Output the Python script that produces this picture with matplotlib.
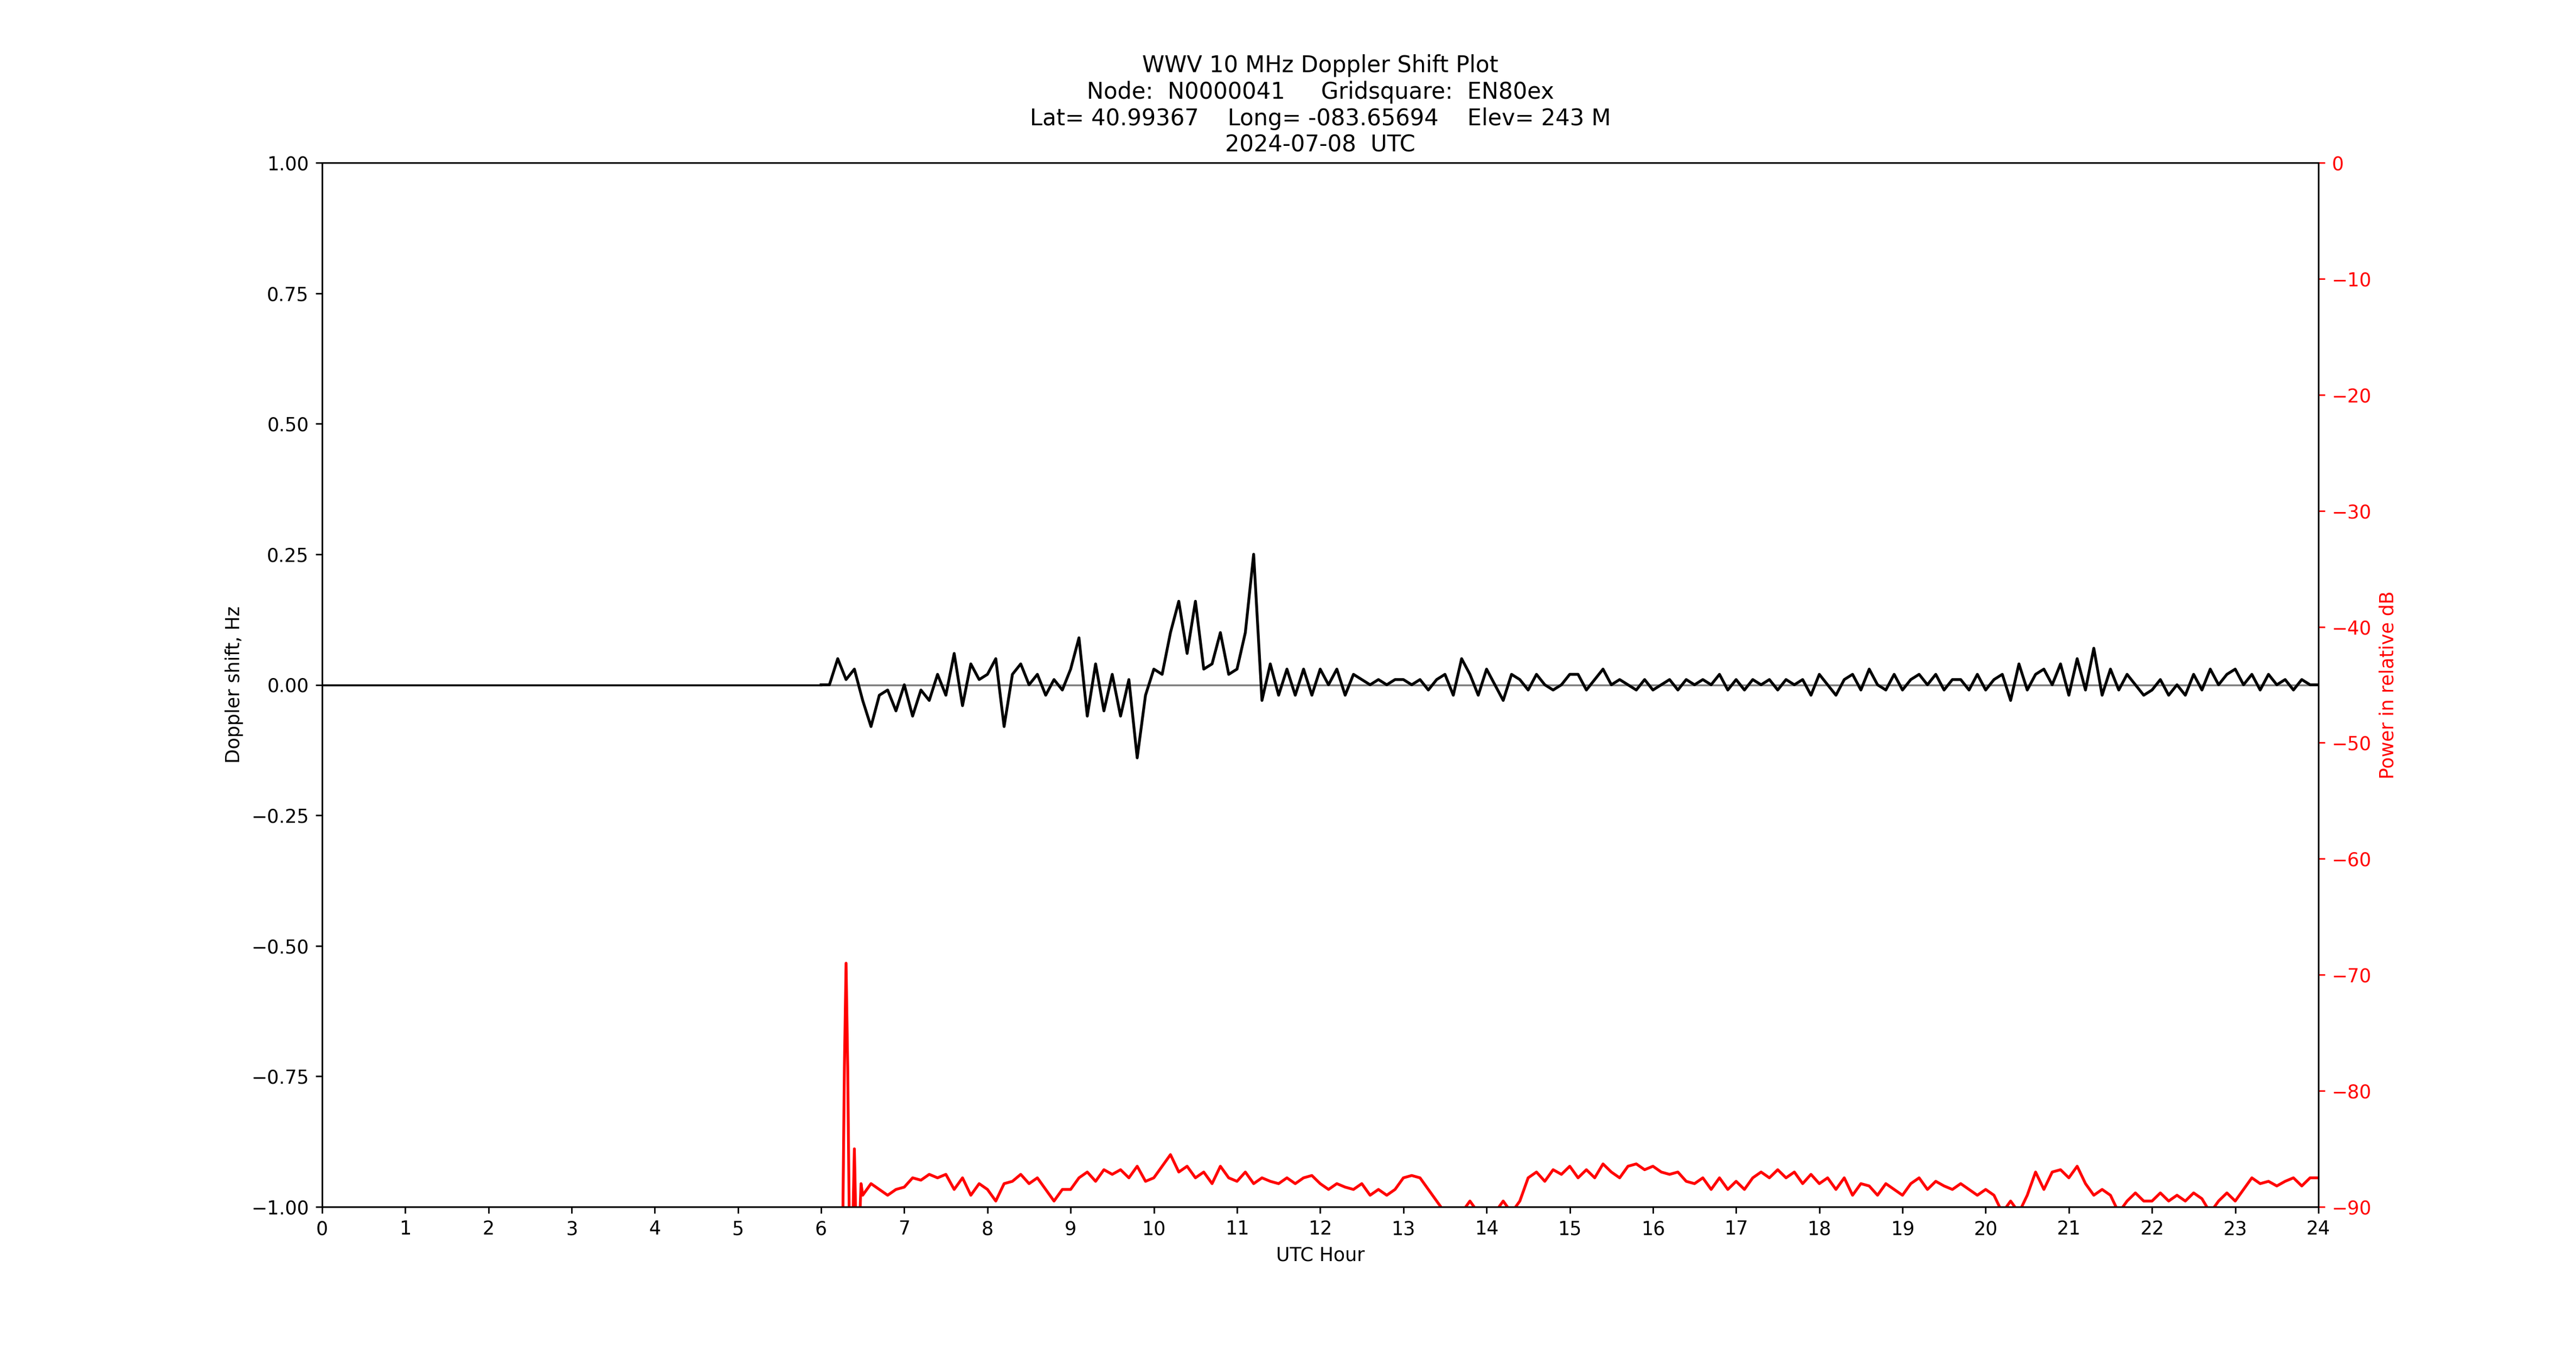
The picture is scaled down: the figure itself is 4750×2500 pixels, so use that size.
import numpy as np
import matplotlib.pyplot as plt

# Doppler shift (Hz), every 0.1 h from 6.0 to 24.0
dop_start = 6.0
doppler = [
    0.0, 0.0, 0.05, 0.01, 0.03, -0.03, -0.08, -0.02, -0.01, -0.05,
    0.0, -0.06, -0.01, -0.03, 0.02, -0.02, 0.06, -0.04, 0.04, 0.01,
    0.02, 0.05, -0.08, 0.02, 0.04, 0.0, 0.02, -0.02, 0.01, -0.01,
    0.03, 0.09, -0.06, 0.04, -0.05, 0.02, -0.06, 0.01, -0.14, -0.02,
    0.03, 0.02, 0.10, 0.16, 0.06, 0.16, 0.03, 0.04, 0.10, 0.02,
    0.03, 0.10, 0.25, -0.03, 0.04, -0.02, 0.03, -0.02, 0.03, -0.02,
    0.03, 0.0, 0.03, -0.02, 0.02, 0.01, 0.0, 0.01, 0.0, 0.01,
    0.01, 0.0, 0.01, -0.01, 0.01, 0.02, -0.02, 0.05, 0.02, -0.02,
    0.03, 0.0, -0.03, 0.02, 0.01, -0.01, 0.02, 0.0, -0.01, 0.0,
    0.02, 0.02, -0.01, 0.01, 0.03, 0.0, 0.01, 0.0, -0.01, 0.01,
    -0.01, 0.0, 0.01, -0.01, 0.01, 0.0, 0.01, 0.0, 0.02, -0.01,
    0.01, -0.01, 0.01, 0.0, 0.01, -0.01, 0.01, 0.0, 0.01, -0.02,
    0.02, 0.0, -0.02, 0.01, 0.02, -0.01, 0.03, 0.0, -0.01, 0.02,
    -0.01, 0.01, 0.02, 0.0, 0.02, -0.01, 0.01, 0.01, -0.01, 0.02,
    -0.01, 0.01, 0.02, -0.03, 0.04, -0.01, 0.02, 0.03, 0.0, 0.04,
    -0.02, 0.05, -0.01, 0.07, -0.02, 0.03, -0.01, 0.02, 0.0, -0.02,
    -0.01, 0.01, -0.02, 0.0, -0.02, 0.02, -0.01, 0.03, 0.0, 0.02,
    0.03, 0.0, 0.02, -0.01, 0.02, 0.0, 0.01, -0.01, 0.01, 0.0, 0.0,
]

# Power (relative dB): initial spike, then every 0.1 h from 6.5 to 24.0
spike_hours = [6.2, 6.26, 6.28, 6.30, 6.32, 6.34, 6.38, 6.40, 6.42, 6.46, 6.48]
spike_power = [-95, -92, -78, -69, -78, -92, -92, -85, -92, -92, -88]
pow_start = 6.5
power = [
    -89.0, -88.0, -88.5, -89.0, -88.5,
    -88.3, -87.5, -87.7, -87.2, -87.5, -87.2, -88.5, -87.5, -89.0, -88.0,
    -88.5, -89.5, -88.0, -87.8, -87.2, -88.0, -87.5, -88.5, -89.5, -88.5,
    -88.5, -87.5, -87.0, -87.8, -86.8, -87.2, -86.8, -87.5, -86.5, -87.8,
    -87.5, -86.5, -85.5, -87.0, -86.5, -87.5, -87.0, -88.0, -86.5, -87.5,
    -87.8, -87.0, -88.0, -87.5, -87.8, -88.0, -87.5, -88.0, -87.5, -87.3,
    -88.0, -88.5, -88.0, -88.3, -88.5, -88.0, -89.0, -88.5, -89.0, -88.5,
    -87.5, -87.3, -87.5, -88.5, -89.5, -90.5, -90.2, -90.5, -89.5, -90.5,
    -90.3, -90.5, -89.5, -90.5, -89.5, -87.5, -87.0, -87.8, -86.8, -87.2,
    -86.5, -87.5, -86.8, -87.5, -86.3, -87.0, -87.5, -86.5, -86.3, -86.8,
    -86.5, -87.0, -87.2, -87.0, -87.8, -88.0, -87.5, -88.5, -87.5, -88.5,
    -87.8, -88.5, -87.5, -87.0, -87.5, -86.8, -87.5, -87.0, -88.0, -87.2,
    -88.0, -87.5, -88.5, -87.5, -89.0, -88.0, -88.2, -89.0, -88.0, -88.5,
    -89.0, -88.0, -87.5, -88.5, -87.8, -88.2, -88.5, -88.0, -88.5, -89.0,
    -88.5, -89.0, -90.5, -89.5, -90.5, -89.0, -87.0, -88.5, -87.0, -86.8,
    -87.5, -86.5, -88.0, -89.0, -88.5, -89.0, -90.5, -89.5, -88.8, -89.5,
    -89.5, -88.8, -89.5, -89.0, -89.5, -88.8, -89.3, -90.5, -89.5, -88.8,
    -89.5, -88.5, -87.5, -88.0, -87.8, -88.2, -87.8, -87.5, -88.2, -87.5,
    -87.5,
]

fig = plt.figure(figsize=(19, 10), dpi=250)
ax = fig.add_subplot(111)
ax2 = ax.twinx()

dop_hours = dop_start + 0.1 * np.arange(len(doppler))
pow_hours = pow_start + 0.1 * np.arange(len(power))

ax.axhline(0, color='grey', linewidth=1)
ax.plot([0, dop_start], [0, 0], color='black', linewidth=1)
ax.plot(dop_hours, doppler, color='black', linewidth=1.5)
ax.set_xlim(0, 24)
ax.set_ylim(-1, 1)
ax.set_xticks(range(25))
ax.set_xlabel('UTC Hour')
ax.set_ylabel('Doppler shift, Hz')

ax2.plot(np.concatenate([spike_hours, pow_hours]),
         np.concatenate([spike_power, power]), color='red', linewidth=1.5)
ax2.set_ylim(-90, 0)
ax2.set_ylabel('Power in relative dB', color='red')
ax2.tick_params(axis='y', colors='red')

ax.set_title('WWV 10 MHz Doppler Shift Plot\n'
             'Node:  N0000041     Gridsquare:  EN80ex\n'
             'Lat= 40.99367    Long= -083.65694    Elev= 243 M\n'
             '2024-07-08  UTC')

fig.savefig('out.png')
